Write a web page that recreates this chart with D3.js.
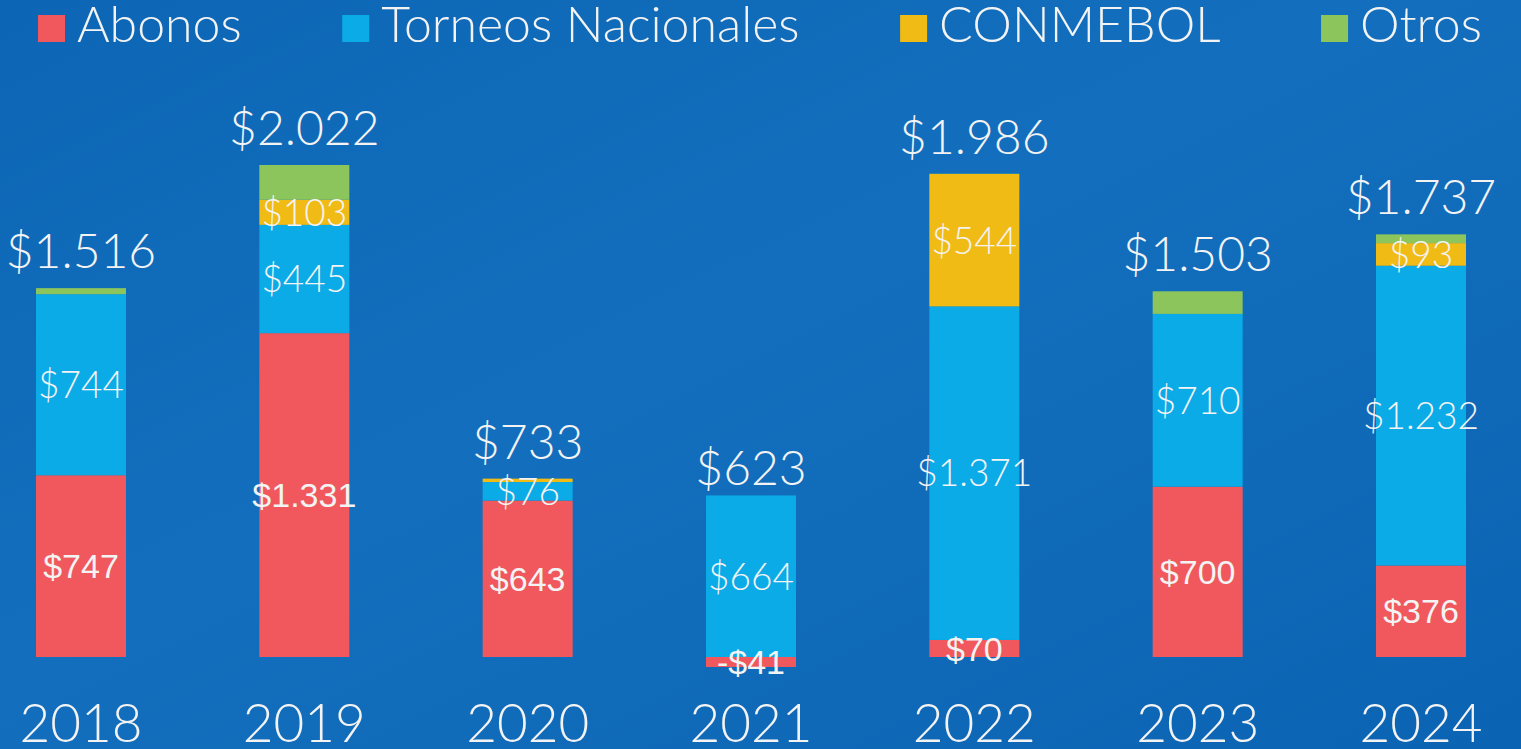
<!DOCTYPE html>
<html>
<head>
<meta charset="utf-8">
<script src="https://cdn.jsdelivr.net/npm/d3@7"></script>
<style>
  html, body { margin: 0; padding: 0; background: #1269b7; }
  svg { display: block; }
</style>
</head>
<body>
<svg id="chart" width="1521" height="749"></svg>
<script>
// data (millions)
const years = ["2018", "2019", "2020", "2021", "2022", "2023", "2024"];
const seriesNames = ["Abonos", "Torneos Nacionales", "CONMEBOL", "Otros"];
const abonos = [747, 1331, 643, -41, 70, 700, 376];
const torneos = [744, 445, 76, 664, 1371, 710, 1232];
const conmebol = [0, 103, 14, 0, 544, 0, 93];
const otros = [25, 143, 0, 0, 1, 93, 36];
const totals = [1516, 2022, 733, 623, 1986, 1503, 1737];

const colors = ["#f0585d", "#0aabe7", "#f1bb16", "#8bc55b"];

const width = 1521, height = 749;
const svg = d3.select("#chart");

// background
const defs = svg.append("defs");
const grad = defs.append("linearGradient")
    .attr("id", "bg")
    .attr("x1", 0).attr("y1", 0).attr("x2", 1).attr("y2", 1);
grad.append("stop").attr("offset", "0%").attr("stop-color", "#0c66b5");
grad.append("stop").attr("offset", "45%").attr("stop-color", "#136fbd");
grad.append("stop").attr("offset", "100%").attr("stop-color", "#0b64b3");
svg.append("rect")
    .attr("width", width).attr("height", height)
    .attr("fill", "url(#bg)");

// rows for the stack
const rows = years.map((y, i) => ({
    year: y,
    "Abonos": abonos[i],
    "Torneos Nacionales": torneos[i],
    "CONMEBOL": conmebol[i],
    "Otros": otros[i],
    total: totals[i]
}));

const stacked = d3.stack()
    .keys(seriesNames)
    .offset(d3.stackOffsetDiverging)(rows);

const x = d3.scalePoint()
    .domain(years)
    .range([81, 1421]);
const barW = 90;

const y = d3.scaleLinear()
    .domain([0, 2022])
    .range([657, 165]);

const fmt = v => (v < 0 ? "-$" : "$") + d3.format(",")(Math.abs(v)).replace(/,/g, ".");

// bars
const layers = svg.append("g").attr("class", "bars")
  .selectAll("g")
  .data(stacked)
  .join("g")
    .attr("fill", (d, i) => colors[i]);

layers.selectAll("rect")
  .data(d => d)
  .join("rect")
    .attr("x", d => x(d.data.year) - barW / 2)
    .attr("width", barW)
    .attr("y", d => y(Math.max(d[0], d[1])))
    .attr("height", d => Math.abs(y(d[0]) - y(d[1])));

// segment labels (Otros is never labelled)
const segLabels = svg.append("g").attr("class", "seg-labels");
stacked.forEach((layer, si) => {
    if (layer.key === "Otros") return;
    segLabels.selectAll(null)
      .data(layer.filter(d => Math.abs(d.data[layer.key]) >= 20))
      .join("text")
        .attr("x", d => x(d.data.year))
        .attr("y", d => (y(d[0]) + y(d[1])) / 2)
        .attr("dy", "0.36em")
        .attr("text-anchor", "middle")
        .attr("fill", "#f3f3f3")
        .style("font-family", si === 0 ? "'Liberation Sans', Arial, sans-serif" : "Lato, 'Open Sans', sans-serif")
        .style("font-weight", si === 0 ? 400 : 300)
        .style("font-size", si === 0 ? "34px" : "37px")
        .text(d => fmt(d.data[layer.key]));
});

// totals on top
svg.append("g").attr("class", "totals")
  .selectAll("text")
  .data(rows)
  .join("text")
    .attr("x", d => x(d.year))
    .attr("y", d => y(d.total) - 20)
    .attr("text-anchor", "middle")
    .attr("fill", "#f3f3f3")
    .style("font-family", "Lato, 'Open Sans', sans-serif")
    .style("font-weight", 300)
    .style("font-size", "48px")
    .text(d => fmt(d.total));

// year labels
svg.append("g").attr("class", "years")
  .selectAll("text")
  .data(years)
  .join("text")
    .attr("x", d => x(d))
    .attr("y", 742)
    .attr("text-anchor", "middle")
    .attr("fill", "#f3f3f3")
    .style("font-family", "Lato, 'Open Sans', sans-serif")
    .style("font-weight", 300)
    .style("font-size", "53px")
    .text(d => d);

// legend, spread between the left and right edges
const legend = svg.append("g").attr("class", "legend");
const items = legend.selectAll("g")
  .data(seriesNames)
  .join("g");
items.append("rect")
    .attr("width", 27).attr("height", 27)
    .attr("y", 15)
    .attr("fill", (d, i) => colors[i]);
items.append("text")
    .attr("x", 39)
    .attr("y", 42)
    .attr("fill", "#f3f3f3")
    .style("font-family", "Lato, 'Open Sans', sans-serif")
    .style("font-weight", 300)
    .style("font-size", "50px")
    .text(d => d);

const itemW = items.nodes().map(n => n.getBBox().width);
const left = 38, right = 1482;
const gap = (right - left - d3.sum(itemW)) / (seriesNames.length - 1);
let cx = left;
items.attr("transform", (d, i) => {
    const t = `translate(${cx},0)`;
    cx += itemW[i] + gap;
    return t;
});
</script>
</body>
</html>
